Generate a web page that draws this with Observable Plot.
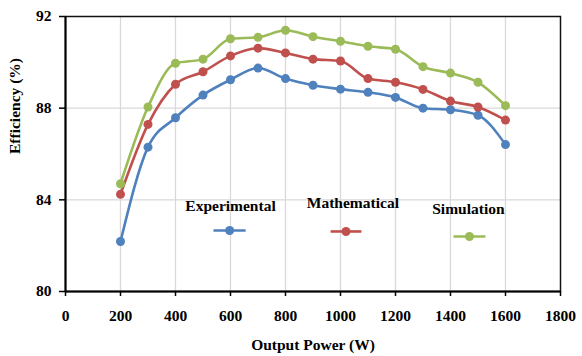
<!DOCTYPE html>
<html>
<head>
<meta charset="utf-8">
<script src="https://cdn.jsdelivr.net/npm/d3@7"></script>
<script src="https://cdn.jsdelivr.net/npm/@observablehq/plot@0.6"></script>
<style>
  html, body { margin: 0; padding: 0; background: #fff; }
  #chart { width: 582px; height: 356px; }
  #chart svg, #chart svg text { font-family: 'Liberation Serif', 'Times New Roman', serif !important; font-weight: bold; }
</style>
</head>
<body>
<div id="chart"></div>
<script>
const power = [200, 300, 400, 500, 600, 700, 800, 900, 1000, 1100, 1200, 1300, 1400, 1500, 1600];
const experimental = [82.18, 86.3, 87.58, 88.57, 89.24, 89.75, 89.29, 89.0, 88.83, 88.69, 88.47, 88.0, 87.93, 87.69, 86.41];
const mathematical = [84.24, 87.29, 89.04, 89.59, 90.28, 90.62, 90.41, 90.14, 90.06, 89.29, 89.13, 88.82, 88.31, 88.05, 87.48];
const simulation = [84.70, 88.05, 89.96, 90.14, 91.03, 91.09, 91.40, 91.12, 90.92, 90.70, 90.57, 89.81, 89.53, 89.13, 88.11];
const seriesNames = ["Experimental", "Mathematical", "Simulation"];
const seriesColors = ["#4f81bd", "#c0504d", "#9bbb59"];
const xTicks = [0, 200, 400, 600, 800, 1000, 1200, 1400, 1600, 1800];
const yTicks = [80, 84, 88, 92];

const seriesValues = [experimental, mathematical, simulation];
const rows = seriesNames.flatMap((name, i) =>
  power.map((p, j) => ({ series: name, power: p, eff: seriesValues[i][j] })));

// legend layout (in data units, placed inside the plot like the original)
const legendLayout = [
  { series: "Experimental", tx: 600, ty: 83.75, x1: 538, x2: 655, xm: 597, y: 82.66 },
  { series: "Mathematical", tx: 1045, ty: 83.84, x1: 964, x2: 1076, xm: 1020, y: 82.62 },
  { series: "Simulation", tx: 1465, ty: 83.62, x1: 1411, x2: 1527, xm: 1469, y: 82.40 }
];

const color = { domain: seriesNames, range: seriesColors };
const font = "'Liberation Serif', 'Times New Roman', serif";

const chart = Plot.plot({
  width: 582,
  height: 356,
  marginLeft: 65,
  marginRight: 22,
  marginTop: 16,
  marginBottom: 65,
  style: { fontFamily: font, fontSize: "15px", fontWeight: "bold", color: "#000" },
  x: { domain: [0, 1800], ticks: xTicks, label: null, tickFormat: d => String(d) },
  y: { domain: [80, 92], ticks: yTicks, label: null, tickFormat: d => String(d) },
  color,
  marks: [
    Plot.gridX(xTicks.slice(1, -1), { stroke: "#d9d9d9", strokeOpacity: 1, strokeWidth: 1.3 }),
    Plot.gridY(yTicks.slice(1, -1), { stroke: "#d9d9d9", strokeOpacity: 1, strokeWidth: 1.3 }),
    Plot.frame({ stroke: "#111", strokeWidth: 1.5 }),
    Plot.axisX({ ticks: xTicks, tickFormat: d => String(d), tickSize: 5, tickPadding: 13, fontSize: 15.5, fontWeight: "bold", fontFamily: font, stroke: "#000", strokeWidth: 1.5 }),
    Plot.axisY({ ticks: yTicks, tickFormat: d => String(d), tickSize: 6, tickPadding: 8, fontSize: 15.5, fontWeight: "bold", fontFamily: font, stroke: "#000", strokeWidth: 1.5 }),
    Plot.ruleY([80], { stroke: "#000", strokeWidth: 2 }),
    Plot.ruleX([0], { stroke: "#000", strokeWidth: 2 }),
    Plot.line(rows, { x: "power", y: "eff", stroke: "series", z: "series", curve: "monotone-x", strokeWidth: 2.6 }),
    Plot.dot(rows, { x: "power", y: "eff", fill: "series", r: 4.5, stroke: "none" }),
    // legend
    Plot.text(legendLayout, { x: "tx", y: "ty", text: "series", fontSize: 15.5, fontWeight: "bold", fontFamily: font, fill: "#000" }),
    Plot.link(legendLayout, { x1: "x1", x2: "x2", y1: "y", y2: "y", stroke: "series", strokeWidth: 2.6 }),
    Plot.dot(legendLayout, { x: "xm", y: "y", fill: "series", r: 4.5, stroke: "none" }),
    // axis titles
    Plot.text(["Output Power (W)"], { frameAnchor: "bottom", dy: 58, fontSize: 15.5, fontWeight: "bold", fontFamily: font, fill: "#000" }),
    Plot.text(["Efficiency (%)"], { frameAnchor: "left", dx: -50, rotate: -90, fontSize: 15.5, fontWeight: "bold", fontFamily: font, fill: "#000" })
  ]
});
document.getElementById("chart").appendChild(chart);
</script>
</body>
</html>
